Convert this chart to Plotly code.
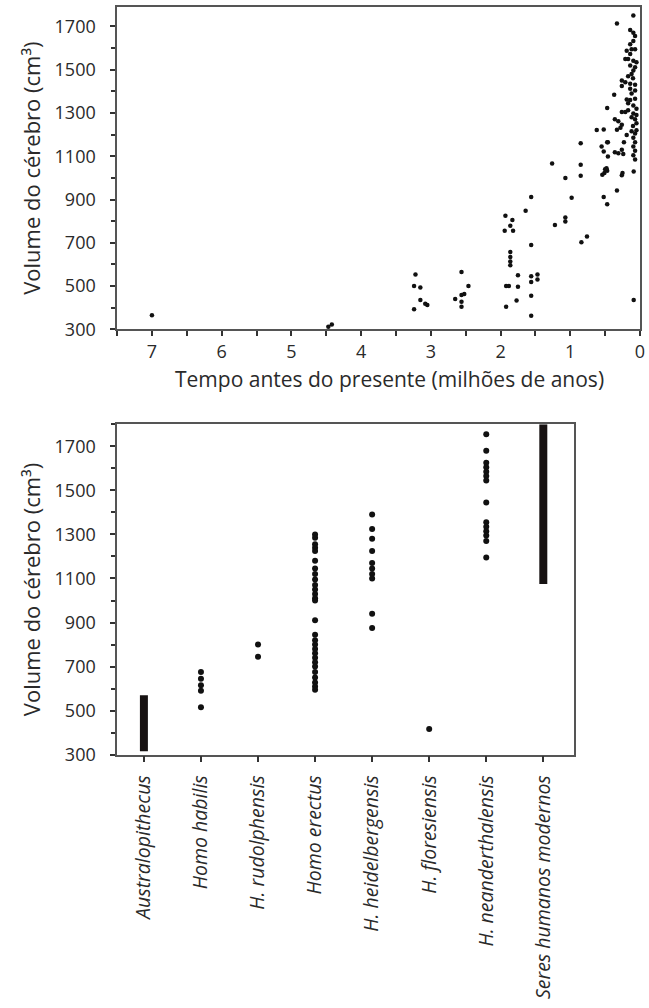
import plotly.graph_objects as go

# ---------------- Top chart data: time before present (Ma) vs brain volume (cm3)
tempo = [
    7.0, 4.47, 4.42,
    3.22, 3.24, 3.15, 3.15, 3.24, 3.05, 3.08,
    2.56, 2.46, 2.56, 2.52, 2.65, 2.56, 2.56,
    1.93, 1.83, 1.86, 1.94, 1.82, 1.86, 1.86, 1.86, 1.86, 1.75, 1.92, 1.88, 1.75, 1.77, 1.92,
    1.64, 1.56, 1.56, 1.56, 1.56, 1.56, 1.56, 1.47, 1.47,
    1.26, 1.22, 1.07, 0.98, 1.07, 1.07, 0.84, 0.76, 0.85, 0.85, 0.85,
    0.51, 0.47, 0.54, 0.25, 0.26, 0.09, 0.33, 0.52, 0.47, 0.09,
    0.095, 0.33, 0.14, 0.095, 0.07, 0.095, 0.14, 0.12, 0.07, 0.19, 0.14, 0.21, 0.17, 0.095,
    0.05, 0.14, 0.07, 0.095, 0.26, 0.21, 0.14, 0.07, 0.26, 0.14, 0.07, 0.37, 0.07, 0.14,
    0.19, 0.47, 0.095, 0.05, 0.17, 0.26, 0.21, 0.095, 0.05, 0.36, 0.31, 0.07, 0.05, 0.26,
    0.28, 0.33, 0.19, 0.62, 0.52, 0.07, 0.095, 0.07, 0.095, 0.07, 0.095, 0.07,
    0.47, 0.23, 0.55, 0.46, 0.52, 0.36, 0.31, 0.26, 0.24, 0.46,
    0.12, 0.17, 0.10, 0.12, 0.17, 0.12, 0.10, 0.05, 0.12, 0.50, 0.48,
]
volume_tempo = [
    365, 312, 322,
    553, 500, 494, 436, 393, 413, 418,
    565, 500, 459, 463, 440, 428, 405,
    825, 805, 779, 756, 756, 657, 634, 614, 596, 550, 500, 500, 497, 433, 405,
    848, 912, 690, 546, 519, 455, 363, 553, 530,
    1066, 782, 1000, 908, 817, 799, 703, 729, 1160, 1061, 1010,
    1023, 1033, 1015, 1023, 1012, 1030, 942, 912, 878, 436,
    1750, 1713, 1683, 1671, 1656, 1633, 1617, 1594, 1594, 1587, 1572, 1549, 1549, 1541,
    1534, 1519, 1511, 1496, 1450, 1442, 1435, 1430, 1424, 1412, 1404, 1384, 1366, 1360,
    1362, 1323, 1335, 1320, 1312, 1305, 1305, 1297, 1290, 1271, 1262, 1271, 1252, 1245,
    1232, 1222, 1198, 1221, 1224, 1205, 1185, 1165, 1145, 1125, 1105, 1085,
    1165, 1165, 1145, 1165, 1122, 1119, 1114, 1130, 1110, 1099,
    1480, 1470, 1460, 1390, 1345, 1280, 1240, 1220, 1215, 1040, 1045,
]

# ---------------- Bottom chart data: species vs brain volume (cm3)
species = [
    "Australopithecus", "Homo habilis", "H. rudolphensis", "Homo erectus",
    "H. heidelbergensis", "H. floresiensis", "H. neanderthalensis",
    "Seres humanos modernos",
]
habilis = [675, 645, 615, 590, 515]
rudolphensis = [800, 745]
erectus = [1300, 1285, 1255, 1240, 1225, 1180, 1145, 1120, 1095, 1070, 1050, 1030,
           1010, 1000, 910, 845, 820, 800, 780, 760, 740, 720, 700, 675, 650, 628,
           610, 595]
heidelbergensis = [1390, 1325, 1280, 1225, 1170, 1145, 1120, 1100, 940, 875]
floresiensis = [417]
neanderthalensis = [1755, 1680, 1625, 1605, 1585, 1565, 1545, 1445, 1355, 1335,
                    1315, 1295, 1270, 1195]
range_species = ["Australopithecus", "Seres humanos modernos"]
range_low = [315, 1075]
range_high = [570, 1800]

dot_groups = [
    ("Homo habilis", habilis),
    ("H. rudolphensis", rudolphensis),
    ("Homo erectus", erectus),
    ("H. heidelbergensis", heidelbergensis),
    ("H. floresiensis", floresiensis),
    ("H. neanderthalensis", neanderthalensis),
]

W, H = 649, 1008
FONT = "Open Sans"
AX = "#555555"
TK = "#333333"
TXT = "#2a2a2a"

fig = go.Figure()

fig.add_trace(go.Scatter(
    x=tempo, y=volume_tempo, mode="markers",
    marker=dict(size=4.5, color="#111111"),
    xaxis="x", yaxis="y", hoverinfo="x+y",
))

fig.add_trace(go.Bar(
    x=range_species,
    y=[h - l for h, l in zip(range_high, range_low)],
    base=range_low, width=0.14,
    marker=dict(color="#171212", line=dict(width=0)),
    xaxis="x2", yaxis="y2",
))

for name, vals in dot_groups:
    fig.add_trace(go.Scatter(
        x=[name] * len(vals), y=vals, mode="markers",
        marker=dict(size=6, color="#111111"),
        xaxis="x2", yaxis="y2",
    ))

ytitle = "Volume do cérebro (cm³)"

common_y = dict(
    showline=True, linecolor=AX, linewidth=1.5, mirror=True,
    ticks="outside", ticklen=5, tickwidth=2, tickcolor=TK,
    tick0=300, dtick=200,
    minor=dict(dtick=100, ticks="outside", ticklen=4, tickwidth=1.5, tickcolor=TK),
    showgrid=False, zeroline=False,
    tickfont=dict(family=FONT, size=18, color=TXT),
    ticklabelstandoff=11,
)

fig.update_layout(
    width=W, height=H,
    margin=dict(l=0, r=0, t=0, b=0),
    paper_bgcolor="white", plot_bgcolor="white",
    showlegend=False,
    font=dict(family=FONT, color=TXT),
    xaxis=dict(
        domain=[118 / W, 645 / W], anchor="y",
        range=[7.5, -0.001], tick0=0, dtick=1,
        showline=True, linecolor=AX, linewidth=1.5, mirror=True,
        ticks="outside", ticklen=5, tickwidth=2, tickcolor=TK,
        minor=dict(dtick=0.5, ticks="outside", ticklen=5, tickwidth=2, tickcolor=TK),
        showgrid=False, zeroline=False,
        tickfont=dict(family=FONT, size=18, color=TXT),
        ticklabeloverflow="allow",
    ),
    yaxis=dict(
        domain=[1 - 333 / H, 1 - 7 / H], anchor="x",
        range=[300, 1790],
        title=dict(text=ytitle, font=dict(family=FONT, size=22, color=TXT), standoff=8),
        **common_y,
    ),
    xaxis2=dict(
        domain=[118 / W, 578 / W], anchor="y2",
        type="category", categoryorder="array", categoryarray=species,
        range=[-0.47, 7.53],
        showline=True, linecolor=AX, linewidth=1.5, mirror=True,
        ticks="outside", ticklen=6, tickwidth=2, tickcolor=TK,
        showgrid=False, zeroline=False, tickangle=-90,
        tickfont=dict(family=FONT, size=19.5, color=TXT, style="italic"),
        ticklabelstandoff=5,
    ),
    yaxis2=dict(
        domain=[1 - 763 / H, 1 - 429 / H], anchor="x2",
        range=[300, 1800],
        title=dict(text=ytitle, font=dict(family=FONT, size=22, color=TXT), standoff=8),
        **common_y,
    ),
    annotations=[dict(
        text="Tempo antes do presente (milhões de anos)",
        xref="paper", yref="paper", x=393 / W, y=1 - 383 / H,
        xanchor="center", yanchor="middle", showarrow=False,
        font=dict(family=FONT, size=21, color=TXT),
    )],
)

fig.write_html("out.html")
